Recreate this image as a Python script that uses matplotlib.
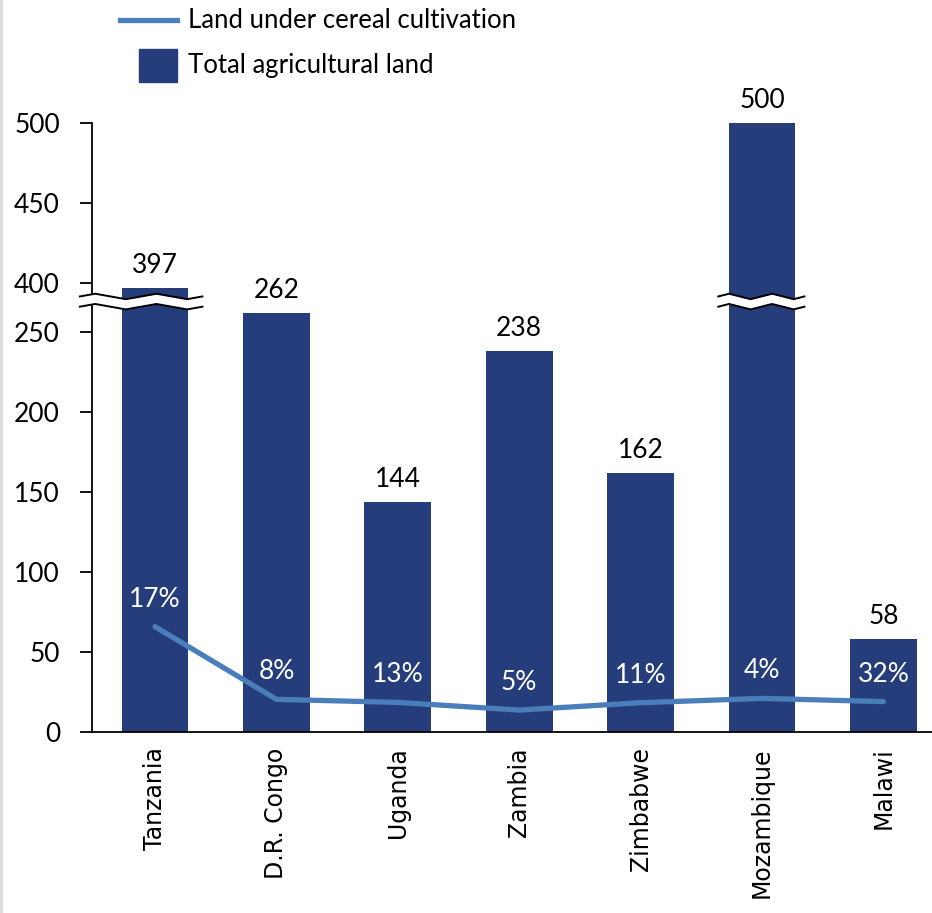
import matplotlib
matplotlib.use('Agg')
from matplotlib import pyplot as plt
from matplotlib.lines import Line2D
from matplotlib.patches import Rectangle
import numpy as np

countries = ['Tanzania', 'D.R. Congo', 'Uganda', 'Zambia', 'Zimbabwe', 'Mozambique', 'Malawi']
total_land = [397, 262, 144, 238, 162, 500, 58]
cereal_land = [65.8, 20.4, 18.5, 13.7, 18.3, 21, 19]
cereal_share = ['17%', '8%', '13%', '5%', '11%', '4%', '32%']
lower_ticks = [0, 50, 100, 150, 200, 250]
upper_ticks = [400, 450, 500]

bar_color = '#253D7B'
line_color = '#4A7EBB'

# values above the break are shifted down so 400 sits just above 250
SHIFT = 119.4
def to_disp(v):
    return v if v <= 300 else v - SHIFT

W, H = 932, 913
fig = plt.figure(figsize=(W / 100, H / 100), dpi=100)
ax = fig.add_axes([92 / W, (H - 732) / H, 852 / W, 609 / H])

x = np.arange(len(countries))
bars = ax.bar(x, [to_disp(v) for v in total_land], width=0.55, color=bar_color, zorder=2)
line, = ax.plot(x, cereal_land, color=line_color, lw=3.8, solid_capstyle='round', zorder=3)

for xi, v in zip(x, total_land):
    ax.annotate(str(v), (xi, to_disp(v)), xytext=(0, 15), textcoords='offset pixels',
                ha='center', va='baseline', fontsize=19, family='Lato', color='black')
for xi, v, s in zip(x, cereal_land, cereal_share):
    ax.annotate(s, (xi, v), xytext=(0, 20), textcoords='offset pixels',
                ha='center', va='baseline', fontsize=19, family='Lato', color='white', zorder=4)

ax.set_xlim(-0.52, 6.5)
ax.set_ylim(0, to_disp(500))
ticks = lower_ticks + upper_ticks
ax.set_yticks([to_disp(t) for t in ticks])
ax.set_yticklabels([str(t) for t in ticks], family='Lato', fontsize=19)
ax.tick_params(axis='y', direction='out', length=9, width=1.3, pad=14)
ax.set_xticks(x)
ax.set_xticklabels(countries, rotation=90, family='DejaVu Sans', fontsize=17)
ax.tick_params(axis='x', length=0, pad=11)
for side in ['top', 'right']:
    ax.spines[side].set_visible(False)
ax.spines['left'].set_linewidth(1.3)
ax.spines['bottom'].set_linewidth(1.3)

# zigzag break marks
def zigzag(x0, x1, yc):
    xs = np.linspace(x0, x1, 9)
    ys = yc + np.array([0, 1, 0, -1, 0, 1, 0, -1, 0]) * 1.7
    return xs, ys

brk = 269
for x0, x1 in [(-0.62, 0.39), (4.64, 5.35)]:
    xs, ys = zigzag(x0, x1, brk)
    ax.fill_between(xs, ys - 3.2, ys + 3.2, color='white', zorder=5, clip_on=False, lw=0)
    ax.plot(xs, ys + 3.2, color='black', lw=1.4, zorder=6, clip_on=False)
    ax.plot(xs, ys - 3.2, color='black', lw=1.4, zorder=6, clip_on=False)

# legend drawn by hand in figure pixels
def fx(px):
    return px / W
def fy(py):
    return 1 - py / H
fig.add_artist(Line2D([fx(120), fx(177)], [fy(20), fy(20)], color=line_color, lw=3.8))
fig.add_artist(Rectangle((fx(139), fy(82)), fx(177) - fx(139), fy(49) - fy(82),
                         color=bar_color, transform=fig.transFigure))
fig.text(fx(188), fy(20), 'Land under cereal cultivation', family='Lato', fontsize=18.5,
         va='center', ha='left')
fig.text(fx(188), fy(65), 'Total agricultural land', family='Lato', fontsize=18.5,
         va='center', ha='left')

fig.add_artist(Line2D([0.001, 0.001], [0, 1], color='#D9D9D9', lw=2))

fig.savefig('out.png', dpi=100)
